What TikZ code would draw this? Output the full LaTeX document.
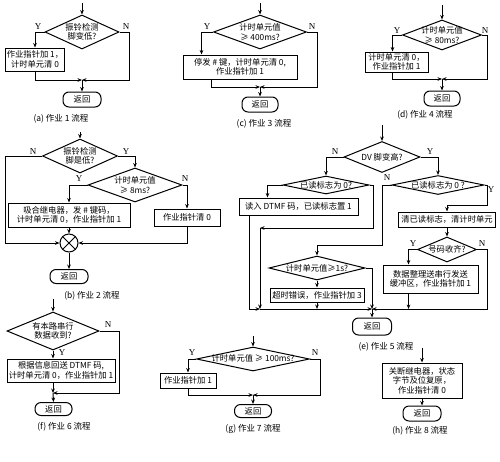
\documentclass[tikz,border=0pt]{standalone}
\usepackage{fontspec}
\setmainfont{Noto Sans CJK SC}
\newfontfamily\ynfont{Liberation Serif}
\usetikzlibrary{shapes.geometric,arrows.meta,calc}
\newcommand\bodyf{\fontsize{8.3}{9.6}\selectfont}
\newcommand\capf{\fontsize{8.5}{10}\selectfont}
\begin{document}
\begin{tikzpicture}[x=1pt,y=-1pt,line width=1pt]
\tikzset{
  dia/.style={draw, diamond, inner sep=0pt, line width=1pt},
  dtext/.style={align=center, inner sep=0pt, font=\bodyf},
  box/.style={draw, rectangle, inner sep=1pt, line width=1pt, align=center, font=\bodyf},
  cbox/.style={box, align=center},
  ret/.style={draw, rectangle, rounded corners=6pt, inner sep=0pt, line width=1pt, font=\bodyf},
  arr/.style={-{Stealth[length=4.5pt,width=3.6pt]}, line width=1pt},
  yn/.style={inner sep=0pt, font=\ynfont\fontsize{9}{10}\selectfont},
  captxt/.style={inner sep=0pt, font=\capf},
}
\fill[white] (0,0) rectangle (500,461);
\useasboundingbox (0,0) rectangle (500,461);

% ---------- (a)
\node[dia, minimum width=74pt, minimum height=34pt] (da) at (82,32) {};
\node[dtext] (dat) at (82,32) {振铃检测\\脚变低?};
\node[box, minimum width=58pt, minimum height=23pt] (ba) at (35,59.5) {作业指针加 1，\\计时单元清 0};
\node[ret, minimum width=38pt, minimum height=15pt] (ra) at (82,99.5) {返回};
\node[captxt] (ca) at (61,119) {(a) 作业 1 流程};
\node[yn] (ya) at (38,27) {Y};
\node[yn] (na) at (126,27) {N};
\coordinate (sa) at (82,3);
\coordinate (ma) at (82,80);
\coordinate (ka) at (129,80);
\draw[arr] (sa) -- (da.north);
\draw[arr] (da.west) -| (ba.north);
\draw[arr] (ba.south) |- (ma);
\draw[arr] (da.east) -| (ka) -- (ma);
\draw[arr] (ma) -- (ra.north);

% ---------- (c)
\node[dia, minimum width=93pt, minimum height=34pt] (dc) at (260,32) {};
\node[dtext] (dct) at (260,32) {计时单元值\\≥ 400ms?};
\node[box, minimum width=114pt, minimum height=24pt] (bc) at (240,67) {停发 \# 键，计时单元清 0,\\作业指针加 1};
\node[ret, minimum width=36pt, minimum height=15pt] (rc) at (260,104.5) {返回};
\node[captxt] (cc) at (264,124) {(c) 作业 3 流程};
\node[yn] (yc) at (207,27) {Y};
\node[yn] (nc) at (312,27) {N};
\coordinate (sc) at (260,3);
\coordinate (mc) at (260,87);
\coordinate (kc) at (317,87);
\coordinate (tc) at ([xshift=19pt]bc.north west);
\coordinate (uc) at ([xshift=29pt]bc.south west);
\draw[arr] (sc) -- (dc.north);
\draw[arr] (dc.west) -| (tc);
\draw[arr] (uc) |- (mc);
\draw[arr] (dc.east) -| (kc) -- (mc);
\draw[arr] (mc) -- (rc.north);

% ---------- (d)
\node[dia, minimum width=79pt, minimum height=30pt] (dd) at (442,35) {};
\node[dtext] (ddt) at (442,35) {计时单元值\\≥ 80ms?};
\node[box, minimum width=63pt, minimum height=20pt] (bd) at (396.5,62) {计时单元清 0，\\作业指针加 1};
\node[ret, minimum width=36pt, minimum height=15pt] (rd) at (442,98.5) {返回};
\node[captxt] (cd) at (425,115) {(d) 作业 4 流程};
\node[yn] (yd) at (397,31) {Y};
\node[yn] (nd) at (485,31) {N};
\coordinate (sd) at (442,5);
\coordinate (md) at (442,79);
\coordinate (kd) at (487,79);
\coordinate (td) at ([xshift=28pt]bd.north west);
\coordinate (ud) at ([xshift=28pt]bd.south west);
\draw[arr] (sd) -- (dd.north);
\draw[arr] (dd.west) -| (td);
\draw[arr] (ud) |- (md);
\draw[arr] (dd.east) -| (kd) -- (md);
\draw[arr] (md) -- (rd.north);

% ---------- (b)
\node[dia, minimum width=75pt, minimum height=34pt] (db) at (80,156) {};
\node[dtext] (dbt) at (80,156) {振铃检测\\脚是低?};
\node[dia, minimum width=94pt, minimum height=34pt] (db2) at (135,185) {};
\node[dtext] (db2t) at (135,185) {计时单元值\\≥ 8ms?};
\node[box, minimum width=122pt, minimum height=24pt] (bb1) at (69,215) {吸合继电器，发 \# 键码，\\计时单元清 0，作业指针加 1};
\node[box, minimum width=66pt, minimum height=17pt] (bb2) at (187,217.5) {作业指针清 0};
\node[draw, circle, minimum size=18pt, inner sep=0pt] (jb) at (69,243) {};
\draw (jb.north east) -- (jb.south west) (jb.north west) -- (jb.south east);
\node[ret, minimum width=38pt, minimum height=14pt] (rb) at (69,276.5) {返回};
\node[captxt] (cb) at (92,296) {(b) 作业 2 流程};
\node[yn] (nb) at (33,152) {N};
\node[yn] (yb) at (126,152) {Y};
\node[yn] (yb2) at (79,179) {Y};
\node[yn] (nb2) at (185,179) {N};
\coordinate (sb) at (80,132);
\coordinate (kb) at (5,243);
\draw[arr] (sb) -- (db.north);
\draw[arr] (db.west) -| (kb) -- (jb.west);
\draw[arr] (db.east) -| (db2.north);
\draw[arr] (db2.west) -| (bb1.north);
\draw[arr] (db2.east) -| (bb2.north);
\draw[arr] (bb1.south) -- (jb.north);
\draw[arr] (bb2.south) |- (jb.east);
\draw[arr] (jb.south) -- (rb.north);

% ---------- (e)
\node[dia, minimum width=76pt, minimum height=31pt] (de) at (382,157) {};
\node[dtext] (det) at (382,157) {DV 脚变高?};
\node[dia, minimum width=86pt, minimum height=18pt] (de2) at (326,185) {};
\node[dtext] (de2t) at (326,185) {已读标志为 0?};
\node[dia, minimum width=92pt, minimum height=19pt] (de3) at (438,185) {};
\node[dtext] (de3t) at (438,185) {已读标志为 0 ?};
\node[box, minimum width=119pt, minimum height=17pt] (dtmf) at (298.5,206.5) {读入 DTMF 码，已读标志置 1};
\node[box, minimum width=97pt, minimum height=15pt] (clr) at (447,219.5) {清已读标志，清计时单元};
\node[dia, minimum width=59pt, minimum height=25pt] (de5) at (447,249.5) {};
\node[dtext] (de5t) at (447,249.5) {号码收齐?};
\node[cbox, minimum width=95pt, minimum height=28pt] (pack) at (430.5,279) {数据整理送串行发送\\缓冲区，作业指针加 1};
\node[dia, minimum width=96pt, minimum height=24pt] (de4) at (317,268) {};
\node[dtext] (de4t) at (317,268) {计时单元值≥1s?};
\node[box, minimum width=94pt, minimum height=14pt] (tmo) at (317,295) {超时错误，作业指针加 3};
\node[ret, minimum width=39pt, minimum height=17pt] (re) at (372,326.5) {返回};
\node[captxt] (ce) at (386,347) {(e) 作业 5 流程};
\node[yn] (ne) at (335,152) {N};
\node[yn] (ye) at (430,152) {Y};
\node[yn] (ne3) at (387,178) {N};
\node[yn] (ye3) at (491,190) {Y};
\node[yn] (ye5) at (413,244) {Y};
\node[yn] (ne5) at (482,244) {N};
\coordinate (se) at (382,125);
\coordinate (tdt) at ([xshift=29pt]dtmf.north west);
\coordinate (udt) at ([xshift=11pt]dtmf.south west);
\coordinate (e1) at (373,228);
\coordinate (e2) at (260,228);
\coordinate (e3) at (260,309);
\coordinate (em) at (372,309);
\coordinate (e4) at (382,245);
\coordinate (e5) at (487,205);
\coordinate (e6) at (487,309);
\coordinate (tpk) at ([xshift=26pt]pack.north west);
\coordinate (upk) at ([xshift=26pt]pack.south west);
\draw[arr] (se) -- (de.north);
\draw[arr] (de.west) -| (de2.north);
\draw[arr] (de.east) -| (de3.north);
\draw[arr] (de2.west) -| (tdt);
\draw[arr] (de2.east) -| (e1) -- (e2);
\draw[arr] (e2) -- (e3);
\draw[arr] (udt) |- (e3);
\draw[arr] (e3) -- (em);
\draw[arr] (de3.west) -| (e4) -| (de4.north);
\draw[arr] (de3.east) -| (e5) -| (clr.north);
\draw[arr] (clr.south) -- (de5.north);
\draw[arr] (de5.west) -| (tpk);
\draw[arr] (upk) -- (upk |- em);
\draw[arr] (de5.east) -| (e6) -- (em);
\draw[arr] (de4.south) -- (tmo.north);
\draw[arr] (tmo.south) -- (tmo.south |- em);
\draw[arr] (de4.east) -| (em);
\draw[arr] (em) -- (re.north);

% ---------- (f)
\node[dia, minimum width=92pt, minimum height=38pt] (df) at (53,331) {};
\node[dtext] (dft) at (53,331) {有本路串行\\数据收到?};
\node[box, minimum width=108pt, minimum height=23pt] (bf) at (61,370.5) {根据信息回送 DTMF 码,\\计时单元清 0，作业指针加 1};
\node[ret, minimum width=37pt, minimum height=13pt] (rf) at (53.5,409) {返回};
\node[captxt] (cf) at (64,427) {(f) 作业 6 流程};
\node[yn] (nf) at (108,325) {N};
\node[yn] (yf) at (62,353) {Y};
\coordinate (sf) at (53,299);
\coordinate (mf) at (53,393);
\coordinate (kf) at (119,393);
\draw[arr] (sf) -- (df.north);
\draw[arr] (df.south) -- (df.south |- bf.north);
\draw[arr] (df.south |- bf.south) -- (mf);
\draw[arr] (df.east) -| (kf) -- (mf);
\draw[arr] (mf) -- (rf.north);

% ---------- (g)
\node[dia, minimum width=113pt, minimum height=24pt] (dg) at (253,359) {};
\node[dtext] (dgt) at (253,358) {计时单元值 ≥ 100ms?};
\node[box, minimum width=56pt, minimum height=15pt] (bg) at (188,380.5) {作业指针加 1};
\node[ret, minimum width=37pt, minimum height=13pt] (rg) at (253,411) {返回};
\node[captxt] (cg) at (253,429) {(g) 作业 7 流程};
\node[yn] (yg) at (192,353) {Y};
\node[yn] (ng) at (315,353) {N};
\coordinate (sg) at (253,336);
\coordinate (mg) at (253,395);
\coordinate (kg) at (320,395);
\draw[arr] (sg) -- (dg.north);
\draw[arr] (dg.west) -| (bg.north);
\draw[arr] (bg.south) |- (mg);
\draw[arr] (dg.east) -| (kg) -- (mg);
\draw[arr] (mg) -- (rg.north);

% ---------- (h)
\node[cbox, minimum width=80pt, minimum height=35pt] (bh) at (422,380.5) {关断继电器，状态\\字节及位复原，\\作业指针清 0};
\node[ret, minimum width=38pt, minimum height=15pt] (rh) at (422,413.5) {返回};
\node[captxt] (ch) at (420,431) {(h) 作业 8 流程};
\coordinate (sh) at (422,348);
\draw[arr] (sh) -- (bh.north);
\draw[arr] (bh.south) -- (rh.north);
\end{tikzpicture}
\end{document}
